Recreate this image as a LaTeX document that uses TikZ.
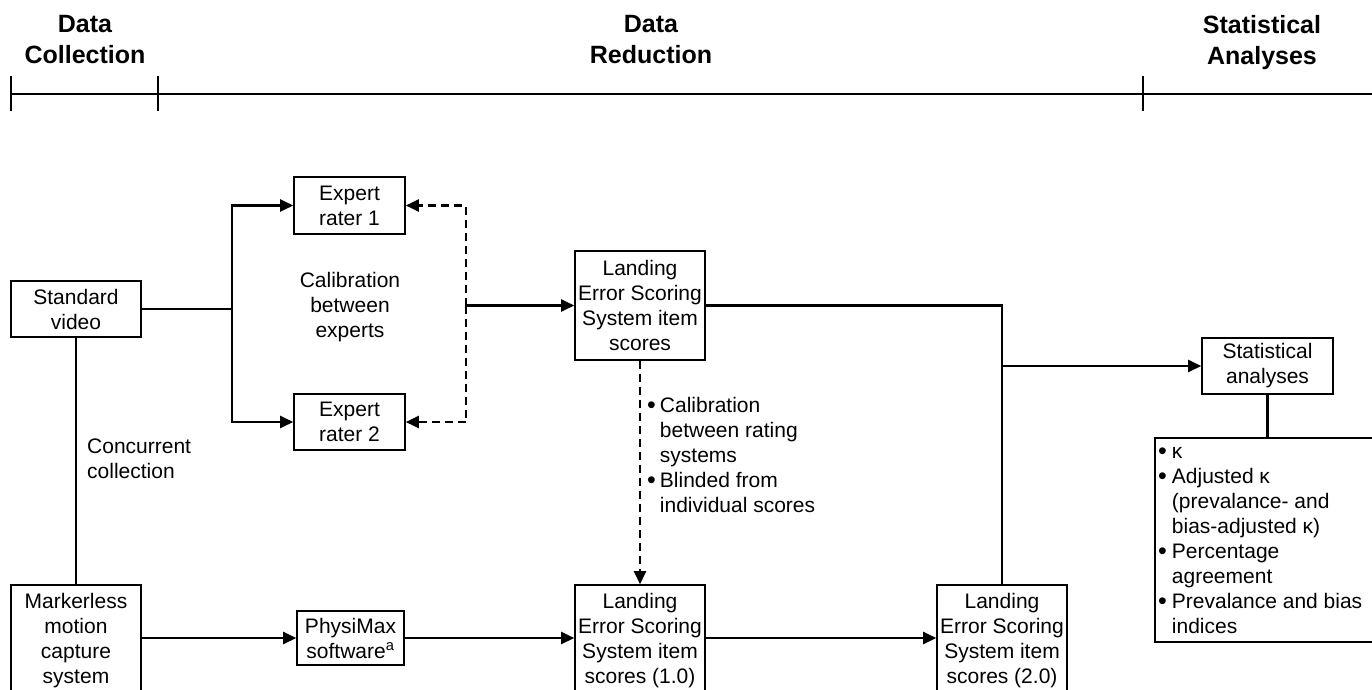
\documentclass[tikz,border=0pt]{standalone}
\usepackage{fontspec}
\setmainfont{Liberation Sans}
\usetikzlibrary{arrows.meta}
\begin{document}
\begin{tikzpicture}[x=1pt,y=-1pt,
 box/.style={draw, line width=1.6pt, inner sep=0pt, align=center, font=\fontsize{21}{25}\selectfont},
 lbl/.style={inner sep=0pt, font=\fontsize{21}{25}\selectfont},
 hdr/.style={inner sep=0pt, align=center, anchor=north, font=\fontsize{25}{31}\selectfont\bfseries},
 conn/.style={line width=2.4pt},
 arr/.style={conn, -{Triangle[length=13pt,width=12pt]}},
 darr/.style={arr, dash pattern=on 8pt off 5pt},
]
\newcommand{\bul}{\raisebox{-1.2pt}{\fontsize{25}{25}\selectfont •}}
\useasboundingbox (0,0) rectangle (1372,690);
% timeline
\coordinate (t0) at (11,94);
\coordinate (t1) at (158,94);
\coordinate (t2) at (1143,94);
\coordinate (t3) at (1372,94);
\draw[conn] (t0) -- (t3);
\draw[conn] ([yshift=-17pt]t0) -- ([yshift=18pt]t0);
\draw[conn] ([yshift=-17pt]t1) -- ([yshift=18pt]t1);
\draw[conn] ([yshift=-17pt]t2) -- ([yshift=18pt]t2);
% headers
\node[hdr] (h1) at (85,15) {Data\\Collection};
\node[hdr] (h2) at (651,15) {Data\\Reduction};
\node[hdr] (h3) at (1262,15) {Statistical\\Analyses};
% boxes
\node[box, minimum width=130pt, minimum height=56pt] (sv) at (76,309) {Standard\\video};
\node[box, minimum width=111pt, minimum height=57pt] (er1) at (349.5,205.5) {Expert\\rater 1};
\node[box, minimum width=111pt, minimum height=56pt] (er2) at (349.5,422) {Expert\\rater 2};
\node[lbl, align=center] (cal) at (350,307) {Calibration\\between\\experts};
\node[box, minimum width=130pt, minimum height=109pt] (lt) at (640,305.5) {Landing\\Error Scoring\\System item\\scores};
\node[box, minimum width=130pt, minimum height=112pt] (mc) at (76,641) {Markerless\\motion\\capture\\system};
\node[box, minimum width=107pt, minimum height=54pt] (pm) at (350.5,638) {PhysiMax\\software\textsuperscript{a}};
\node[box, minimum width=130pt, minimum height=112pt] (l1) at (640,641) {Landing\\Error Scoring\\System item\\scores (1.0)};
\node[box, minimum width=130pt, minimum height=112pt] (l2) at (1002,641) {Landing\\Error Scoring\\System item\\scores (2.0)};
\node[box, minimum width=131pt, minimum height=56pt] (sa) at (1267.5,366) {Statistical\\analyses};
\node[box, minimum width=225pt, minimum height=204pt] (lb) at (1267.5,540) {};
\node[lbl, anchor=north west] (lbt) at (1158,440.5) {\begin{tabular}{@{}l@{\hspace{5pt}}l@{}}\bul&κ\\\bul&Adjusted κ\\&(prevalance- and\\&bias-adjusted κ)\\\bul&Percentage\\&agreement\\\bul&Prevalance and bias\\&indices\end{tabular}};
\node[lbl, align=left, anchor=west] (cc) at (87,459) {Concurrent\\collection};
\node[lbl, anchor=north west] (cb) at (647,395) {\begin{tabular}{@{}l@{\hspace{4pt}}l@{}}\bul&Calibration\\&between rating\\&systems\\\bul&Blinded from\\&individual scores\end{tabular}};
% connectors
\coordinate (br) at (232,309);
\draw[conn] (sv.east) -- (br);
\draw[arr] (br) |- (er1.west);
\draw[arr] (br) |- (er2.west);
\coordinate (dj) at (466,305.5);
\draw[arr] (dj) -- (lt.west);
\draw[darr] (dj) |- (er1.east);
\draw[darr] (dj) |- (er2.east);
\draw[darr] (lt.south) -- (l1.north);
\draw[conn] (sv.south) -- (mc.north);
\draw[arr] (mc.east |- pm.west) -- (pm.west);
\draw[arr] (pm.east) -- (l1.west |- pm.east);
\draw[arr] (l1.east |- pm.east) -- (l2.west |- pm.east);
\draw[conn] (lt.east) -- (l2.north |- lt.east) -- (l2.north);
\draw[arr] (l2.north |- sa.west) -- (sa.west);
\draw[conn] (sa.south) -- (lb.north);
\end{tikzpicture}
\end{document}
